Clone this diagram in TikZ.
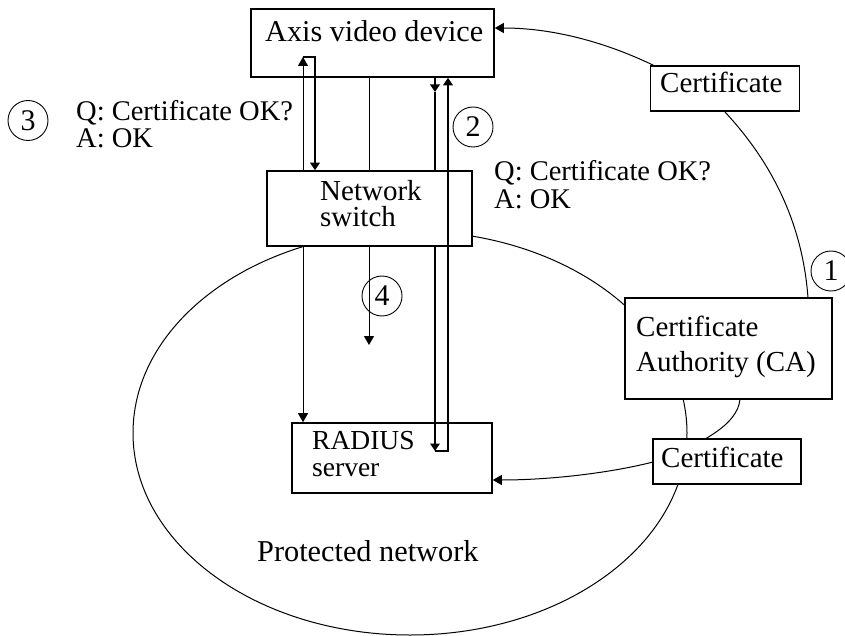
\documentclass[tikz,border=0pt]{standalone}
\usepackage{fontspec}
\setmainfont{Liberation Serif}
\usetikzlibrary{arrows.meta,calc}
\tikzset{
  boxnode/.style={draw=black,line width=1.6pt,fill=white,inner sep=0pt,minimum width=#1},
  labeltext/.style={anchor=base west,inner sep=0pt,align=left,font=\fontsize{#1}{30}\selectfont},
  labeltext/.default=29,
  numcircle/.style={draw=black,line width=0.9pt,circle,minimum size=40pt,inner sep=0pt,font=\fontsize{30}{30}\selectfont},
  thinarrow/.style={draw=black,line width=1pt,-{Triangle[length=9pt,width=10pt]}},
  thinline/.style={draw=black,line width=1pt},
  thickarrow/.style={draw=black,line width=2pt,-{Triangle[length=7.5pt,width=9.5pt]}},
  thickline/.style={draw=black,line width=2pt},
  curve/.style={draw=black,line width=1pt},
}
\begin{document}
\begin{tikzpicture}[x=1pt,y=-1pt]
\useasboundingbox (0,0) rectangle (845,636);
% protected network outline
\draw[curve] (410,433) ellipse [x radius=277, y radius=202];
\node[labeltext=30.3] (pn) at (257,561) {Protected network};
% boxes
\node[boxnode=243pt,minimum height=68pt] (axis) at (372.5,43) {};
\node[boxnode=205pt,minimum height=75pt] (switch) at (369.5,208.5) {};
\node[boxnode=200pt,minimum height=70pt] (radius) at (392,458) {};
\node[boxnode=207pt,minimum height=101pt] (ca) at (728.5,348.5) {};
% curved certificate paths, behind the certificate boxes
\coordinate (catop) at (808,298);
\coordinate (cabot) at (740,399);
\draw[curve,-{Triangle[length=9pt,width=10pt]}] (catop) .. controls (802,215) and (765,155) .. (725,112) .. controls (695,82) and (600,28) .. (axis.east |- 0,28);
\draw[curve,-{Triangle[length=9pt,width=10pt]}] (cabot) .. controls (738,425) and (700,445) .. (653,462) .. controls (610,473) and (550,480) .. (radius.east |- 0,480);
% certificate boxes
\node[boxnode=149pt,minimum height=45pt,line width=1.3pt] (ct) at (725,88.5) {};
\node[boxnode=148pt,minimum height=45pt,line width=1.3pt] (cb) at (727,461.5) {};
% connectors
\coordinate (a1) at (303,57);
\coordinate (a2) at (315,57);
\draw[thinarrow] (switch.north -| a1) -- (a1);
\draw[thickarrow] (a1) -- (a2) -- (switch.north -| a2);
\coordinate (m) at (369,345);
\draw[thinline] (axis.south -| m) -- (switch.north -| m);
\draw[thinarrow] (switch.south -| m) -- (m);
\coordinate (b1) at (435,451);
\coordinate (b2) at (448,451);
\coordinate (b3) at (435,92);
\draw[thickarrow] (axis.south -| b1) -- (b3);
\draw[thickline] (b3) -- (switch.north -| b1);
\draw[thickarrow] (switch.south -| b1) -- (b1);
\draw[thickarrow] (b1) -- (b2) -- (axis.south -| b2);
\draw[thinarrow] (switch.south -| a1) -- (radius.north -| a1);
% labels
\node[labeltext=30.2] (t1) at (265,42) {Axis video device};
\node[labeltext] (t2) at (320,226) {Network\\[-5pt]switch};
\node[labeltext=27.5] (t4) at (312,476) {RADIUS\\[-3pt]server};
\node[labeltext] (t6) at (636,371) {Certificate\\[5pt]Authority (CA)};
\node[labeltext] (t8) at (660,93) {Certificate};
\node[labeltext] (t9) at (661,467) {Certificate};
\node[labeltext=28.5] (q1) at (76,148) {Q: Certificate OK?\\[-3pt]A: OK};
\node[labeltext=28.5] (q2) at (494,209) {Q: Certificate OK?\\[-2pt]A: OK};
\node[numcircle] (n1) at (831,271) {1};
\node[numcircle] (n2) at (473,127) {2};
\node[numcircle] (n3) at (28,120.5) {3};
\node[numcircle] (n4) at (382,296) {4};
\end{tikzpicture}
\end{document}
